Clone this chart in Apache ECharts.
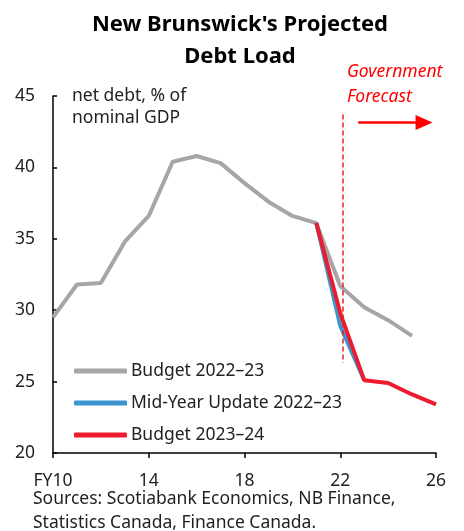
<!DOCTYPE html>
<html>
<head>
<meta charset="utf-8">
<script src="https://cdn.jsdelivr.net/npm/echarts@6/dist/echarts.min.js"></script>
<style>
  html, body { margin: 0; padding: 0; background: #fff; }
  #main { width: 464px; height: 531px; }
</style>
</head>
<body>
<div id="main"></div>
<script>
// fiscal years (FY10 .. FY26)
var budget2223 = [[10,29.5],[11,31.8],[12,31.9],[13,34.8],[14,36.6],[15,40.4],[16,40.8],[17,40.3],[18,38.9],[19,37.6],[20,36.6],[21,36.1],[22,31.7],[23,30.2],[24,29.3],[25,28.2]];
var midYear2223 = [[21,36.1],[22,28.9],[23,25.1]];
var budget2324 = [[21,36.1],[22,29.8],[23,25.1],[24,24.9],[25,24.1],[26,23.4]];
var xTicks = {10:'FY10',14:'14',18:'18',22:'22',26:'26'};
var seriesNames = ['Budget 2022\u201323','Mid-Year Update 2022\u201323','Budget 2023\u201324'];

var font = 'Noto Sans';
var fs = 17.5;
var chart = echarts.init(document.getElementById('main'));

var option = {
  animation: false,
  textStyle: { fontFamily: font },
  title: {
    text: "New Brunswick's Projected\nDebt Load",
    left: 235, top: 4, textAlign: 'center',
    textStyle: { fontFamily: font, fontSize: 22, fontWeight: 'bold', color: '#000', lineHeight: 32 }
  },
  grid: { left: 53, right: 28, top: 96, bottom: 78 },
  legend: {
    orient: 'vertical', left: 74, top: 359, padding: 0,
    icon: 'roundRect', itemWidth: 53, itemHeight: 5, itemGap: 8,
    textStyle: { fontFamily: font, fontSize: fs, color: '#222', lineHeight: 24, padding: [0,0,0,-1] },
    data: seriesNames
  },
  xAxis: {
    type: 'value', min: 10, max: 26, interval: 4,
    axisLine: { lineStyle: { color: '#000', width: 1.5 } },
    axisTick: { show: true, inside: false, length: 5, lineStyle: { color: '#000', width: 1.5 } },
    axisLabel: { fontFamily: font, fontSize: fs, color: '#222', margin: 19, formatter: function (v) { return xTicks[v] || ''; } },
    splitLine: { show: false }
  },
  yAxis: {
    type: 'value', min: 20, max: 45, interval: 5,
    axisLine: { show: true, lineStyle: { color: '#000', width: 1.5 } },
    axisTick: { show: true, inside: true, length: 4, lineStyle: { color: '#000', width: 1.5 } },
    axisLabel: { fontFamily: font, fontSize: fs, color: '#222', margin: 18 },
    splitLine: { show: false }
  },
  series: [
    {
      name: seriesNames[0], type: 'line', data: budget2223, showSymbol: false,
      lineStyle: { color: '#a6a6a6', width: 4 }, itemStyle: { color: '#a6a6a6' }, z: 2
    },
    {
      name: seriesNames[1], type: 'line', data: midYear2223, showSymbol: false,
      lineStyle: { color: '#3a96cf', width: 4 }, itemStyle: { color: '#3a96cf' }, z: 3
    },
    {
      name: seriesNames[2], type: 'line', data: budget2324, showSymbol: false,
      lineStyle: { color: '#ec1c2e', width: 4 }, itemStyle: { color: '#ec1c2e' }, z: 4,
      markLine: {
        silent: true, animation: false,
        label: { show: false },
        data: [
          [
            { coord: [22.1, 43.7], symbol: 'none', lineStyle: { color: '#ec1c2e', type: [5, 3], width: 1.5 } },
            { coord: [22.1, 26.3], symbol: 'none' }
          ],
          [
            { coord: [22.75, 43.15], symbol: 'none', lineStyle: { color: '#ff0000', type: 'solid', width: 2.5 } },
            { coord: [25.5, 43.15], symbol: 'triangle', symbolSize: [15, 17], symbolRotate: -90 }
          ]
        ]
      }
    }
  ],
  graphic: [
    { type: 'text', left: 72, top: 85, style: { text: 'net debt, % of\nnominal GDP', font: '17.5px "Noto Sans"', fill: '#222', lineHeight: 22 } },
    { type: 'text', left: 347, top: 60, style: { text: 'Government\nForecast', font: 'italic 17.5px "Noto Sans"', fill: '#ff0000', lineHeight: 25 } },
    { type: 'text', left: 33, top: 487, style: { text: 'Sources: Scotiabank Economics, NB Finance,\nStatistics Canada, Finance Canada.', font: '17.5px "Noto Sans"', fill: '#222', lineHeight: 24 } }
  ]
};
chart.setOption(option);
</script>
</body>
</html>
